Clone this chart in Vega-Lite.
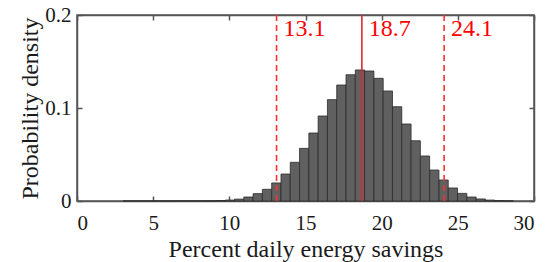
{
  "$schema": "https://vega.github.io/schema/vega-lite/v6.json",
  "width": 457,
  "height": 186,
  "autosize": {"type": "none"},
  "padding": {"left": 77, "top": 15, "right": 16, "bottom": 61},
  "config": {
    "font": "Liberation Serif",
    "view": {"stroke": "#555555", "strokeWidth": 1.5},
    "axis": {
      "grid": false,
      "domain": true,
      "domainColor": "#555555",
      "domainWidth": 1.5,
      "ticks": true,
      "tickColor": "#555555",
      "tickWidth": 1.5,
      "tickSize": -5,
      "labelColor": "#1a1a1a",
      "titleColor": "#1a1a1a",
      "labelFont": "Liberation Serif",
      "titleFont": "Liberation Serif",
      "labelFontSize": 21,
      "titleFontSize": 24,
      "titleFontWeight": "normal",
      "zindex": 1
    }
  },
  "datasets": {
    "lines": [
      {"v": 13.1, "kind": "ci", "lab": "13.1"},
      {"v": 18.7, "kind": "mean", "lab": "18.7"},
      {"v": 24.1, "kind": "ci", "lab": "24.1"}
    ],
    "hist": [
      {"x0": 3.02, "x1": 3.63, "d": 0.00002},
      {"x0": 3.63, "x1": 4.24, "d": 0.00002},
      {"x0": 4.24, "x1": 4.85, "d": 0.00003},
      {"x0": 4.85, "x1": 5.46, "d": 0.00003},
      {"x0": 5.46, "x1": 6.07, "d": 0.00004},
      {"x0": 6.07, "x1": 6.68, "d": 0.00005},
      {"x0": 6.68, "x1": 7.29, "d": 0.00006},
      {"x0": 7.29, "x1": 7.90, "d": 0.00008},
      {"x0": 7.90, "x1": 8.51, "d": 0.0001},
      {"x0": 8.51, "x1": 9.12, "d": 0.0002},
      {"x0": 9.12, "x1": 9.73, "d": 0.0005},
      {"x0": 9.73, "x1": 10.34, "d": 0.001},
      {"x0": 10.34, "x1": 10.95, "d": 0.002},
      {"x0": 10.95, "x1": 11.56, "d": 0.0043},
      {"x0": 11.56, "x1": 12.17, "d": 0.0079},
      {"x0": 12.17, "x1": 12.78, "d": 0.0126},
      {"x0": 12.78, "x1": 13.39, "d": 0.0194},
      {"x0": 13.39, "x1": 14.00, "d": 0.029},
      {"x0": 14.00, "x1": 14.61, "d": 0.0416},
      {"x0": 14.61, "x1": 15.22, "d": 0.0566},
      {"x0": 15.22, "x1": 15.83, "d": 0.0731},
      {"x0": 15.83, "x1": 16.44, "d": 0.0914},
      {"x0": 16.44, "x1": 17.05, "d": 0.109},
      {"x0": 17.05, "x1": 17.66, "d": 0.1247},
      {"x0": 17.66, "x1": 18.27, "d": 0.1358},
      {"x0": 18.27, "x1": 18.88, "d": 0.1409},
      {"x0": 18.88, "x1": 19.49, "d": 0.1398},
      {"x0": 19.49, "x1": 20.10, "d": 0.1319},
      {"x0": 20.10, "x1": 20.71, "d": 0.1183},
      {"x0": 20.71, "x1": 21.32, "d": 0.1014},
      {"x0": 21.32, "x1": 21.93, "d": 0.0828},
      {"x0": 21.93, "x1": 22.54, "d": 0.0648},
      {"x0": 22.54, "x1": 23.15, "d": 0.0484},
      {"x0": 23.15, "x1": 23.76, "d": 0.0333},
      {"x0": 23.76, "x1": 24.37, "d": 0.0226},
      {"x0": 24.37, "x1": 24.98, "d": 0.014},
      {"x0": 24.98, "x1": 25.59, "d": 0.0082},
      {"x0": 25.59, "x1": 26.20, "d": 0.0043},
      {"x0": 26.20, "x1": 26.81, "d": 0.0022},
      {"x0": 26.81, "x1": 27.42, "d": 0.001},
      {"x0": 27.42, "x1": 28.03, "d": 0.0004},
      {"x0": 28.03, "x1": 28.64, "d": 0.0001}
    ]
  },
  "layer": [
    {
      "data": {"name": "hist"},
      "mark": {"type": "bar", "fill": "#606060", "stroke": "#2b2b2b", "strokeWidth": 0.8},
      "encoding": {
        "x": {"field": "x0", "type": "quantitative", "scale": {"domain": [0, 30], "nice": false},
              "axis": {"values": [0, 5, 10, 15, 20, 25, 30], "title": "Percent daily energy savings", "labelPadding": 16, "titlePadding": 4}},
        "x2": {"field": "x1"},
        "y": {"field": "d", "type": "quantitative", "scale": {"domain": [0, 0.2], "nice": false},
              "axis": {"values": [0, 0.1, 0.2], "format": "~g", "title": "Probability density", "labelPadding": 11, "titlePadding": 2}},
        "y2": {"datum": 0}
      }
    },
    {
      "data": {"name": "lines"},
      "transform": [{"filter": "datum.kind == 'ci'"}],
      "mark": {"type": "rule", "color": "#ff3030", "strokeWidth": 1.6, "strokeDash": [6, 4]},
      "encoding": {
        "x": {"field": "v", "type": "quantitative", "axis": {"orient": "top", "values": [0, 5, 10, 15, 20, 25, 30], "labels": false, "title": null}}
      }
    },
    {
      "data": {"name": "lines"},
      "transform": [{"filter": "datum.kind == 'mean'"}],
      "mark": {"type": "rule", "color": "#e3262b", "strokeWidth": 1.6},
      "encoding": {
        "x": {"field": "v", "type": "quantitative", "axis": null}
      }
    },
    {
      "data": {"name": "lines"},
      "mark": {"type": "text", "color": "#ff0000", "align": "left", "baseline": "top", "dx": 7, "dy": 2, "fontSize": 24, "font": "Liberation Serif"},
      "encoding": {
        "x": {"field": "v", "type": "quantitative", "axis": null},
        "y": {"datum": 0.2, "type": "quantitative", "axis": {"orient": "right", "values": [0, 0.1, 0.2], "labels": false, "title": null}},
        "text": {"field": "lab"}
      }
    }
  ],
  "resolve": {"axis": {"x": "independent", "y": "independent"}}
}
